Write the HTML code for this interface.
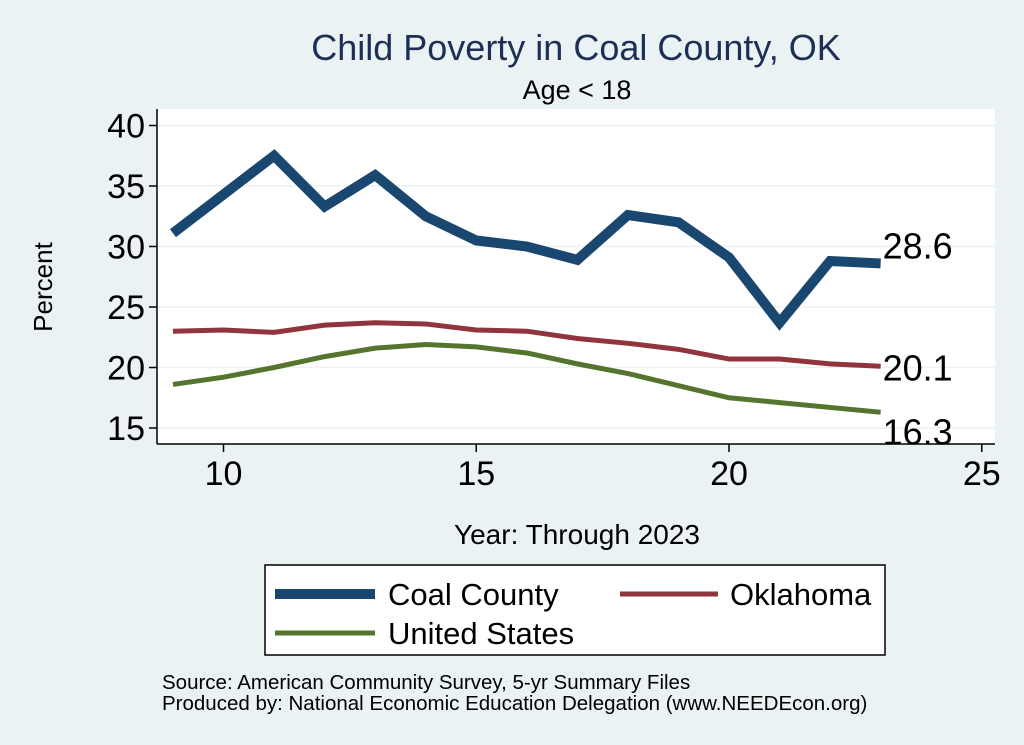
<!DOCTYPE html>
<html><head><meta charset="utf-8"><style>
body{margin:0;background:#eaf2f3;}
svg{display:block;font-family:"Liberation Sans",sans-serif;}
</style></head><body>
<svg id="c" width="1024" height="745" viewBox="0 0 1024 745" xmlns="http://www.w3.org/2000/svg">
<rect x="0" y="0" width="1024" height="745" fill="#eaf2f3"/>
<rect x="157" y="109" width="838" height="335" fill="#fff"/>
<text x="576" y="60" font-size="36" fill="#1e2f55" text-anchor="middle">Child Poverty in Coal County, OK</text>
<text x="577" y="99" font-size="27" fill="#000" text-anchor="middle">Age &lt; 18</text>
<text x="52" y="287" font-size="26" text-anchor="middle" transform="rotate(-90 52 287)">Percent</text>
<text x="577" y="544" font-size="28" text-anchor="middle">Year: Through 2023</text>
<g id="grid"></g><g id="axes"></g><g id="series"></g>
<g>
<rect x="265" y="565" width="620" height="90" fill="#fff" stroke="#000" stroke-width="1.5"/>
<line x1="275" y1="594" x2="375" y2="594" stroke="#1a476f" stroke-width="10"/>
<text x="388" y="605" font-size="31">Coal County</text>
<line x1="620" y1="594" x2="718" y2="594" stroke="#90353b" stroke-width="5"/>
<text x="730" y="605" font-size="31">Oklahoma</text>
<line x1="275" y1="633" x2="375" y2="633" stroke="#55752f" stroke-width="5"/>
<text x="388" y="644" font-size="31">United States</text>
</g>
<text x="162" y="689" font-size="20.5">Source: American Community Survey, 5-yr Summary Files</text>
<text x="162" y="710" font-size="20.5">Produced by: National Economic Education Delegation (www.NEEDEcon.org)</text>
</svg>
<script>
const years=[9,10,11,12,13,14,15,16,17,18,19,20,21,22,23];
const coal=[31.1,34.3,37.5,33.3,35.9,32.5,30.5,30.0,28.9,32.6,32.0,29.1,23.7,28.8,28.6];
const oklahoma=[23.0,23.1,22.9,23.5,23.7,23.6,23.1,23.0,22.4,22.0,21.5,20.7,20.7,20.3,20.1];
const us=[18.6,19.2,20.0,20.9,21.6,21.9,21.7,21.2,20.3,19.5,18.5,17.5,17.1,16.7,16.3];
const yTicks=[15,20,25,30,35,40];
const xTicks=[10,15,20,25];
const NS="http://www.w3.org/2000/svg";
const X=v=>223.5+(v-10)*50.55;
const Y=v=>428-(v-15)*12.1;
function mk(t,a,p){const e=document.createElementNS(NS,t);for(const k in a)e.setAttribute(k,a[k]);p.appendChild(e);return e;}
const grid=document.getElementById('grid'),axes=document.getElementById('axes'),ser=document.getElementById('series');
yTicks.forEach(v=>{
 const g=mk('line',{x1:158,x2:995,y1:Y(v),y2:Y(v),stroke:'#eaf2f3','stroke-width':1.5},grid);
 
 
 const t=mk('line',{x1:149,x2:157,y1:Y(v),y2:Y(v),stroke:'#000','stroke-width':1.5},axes);
 
 
 const l=mk('text',{x:145,y:Y(v)+12,'font-size':34,'text-anchor':'end'},axes);l.textContent=v;
 
 
});
xTicks.forEach(v=>{
 const t=mk('line',{x1:X(v),x2:X(v),y1:444,y2:452,stroke:'#000','stroke-width':1.5},axes);
 
 
 const l=mk('text',{x:X(v),y:485,'font-size':34,'text-anchor':'middle'},axes);l.textContent=v;
 
 
});
const ya=mk('line',{x1:157,x2:157,y1:109,y2:444,stroke:'#000','stroke-width':1.5},axes);


const xa=mk('line',{x1:157,x2:995,y1:444,y2:444,stroke:'#000','stroke-width':1.5},axes);


function line(vals,color,w,name,dy){
 const p=mk('polyline',{points:vals.map((v,i)=>X(years[i])+','+Y(v)).join(' '),fill:'none',stroke:color,'stroke-width':w,'stroke-linejoin':'miter'},ser);
 
 
 const last=vals[vals.length-1];
 const t=mk('text',{x:X(years[years.length-1])+2,y:Y(last)+dy,'font-size':36},ser);t.textContent=last.toFixed(1);
 
 
}
line(us,'#55752f',5,'us',32);
line(oklahoma,'#90353b',5,'oklahoma',14);
line(coal,'#1a476f',10,'coal',-5);
</script>
</body></html>
